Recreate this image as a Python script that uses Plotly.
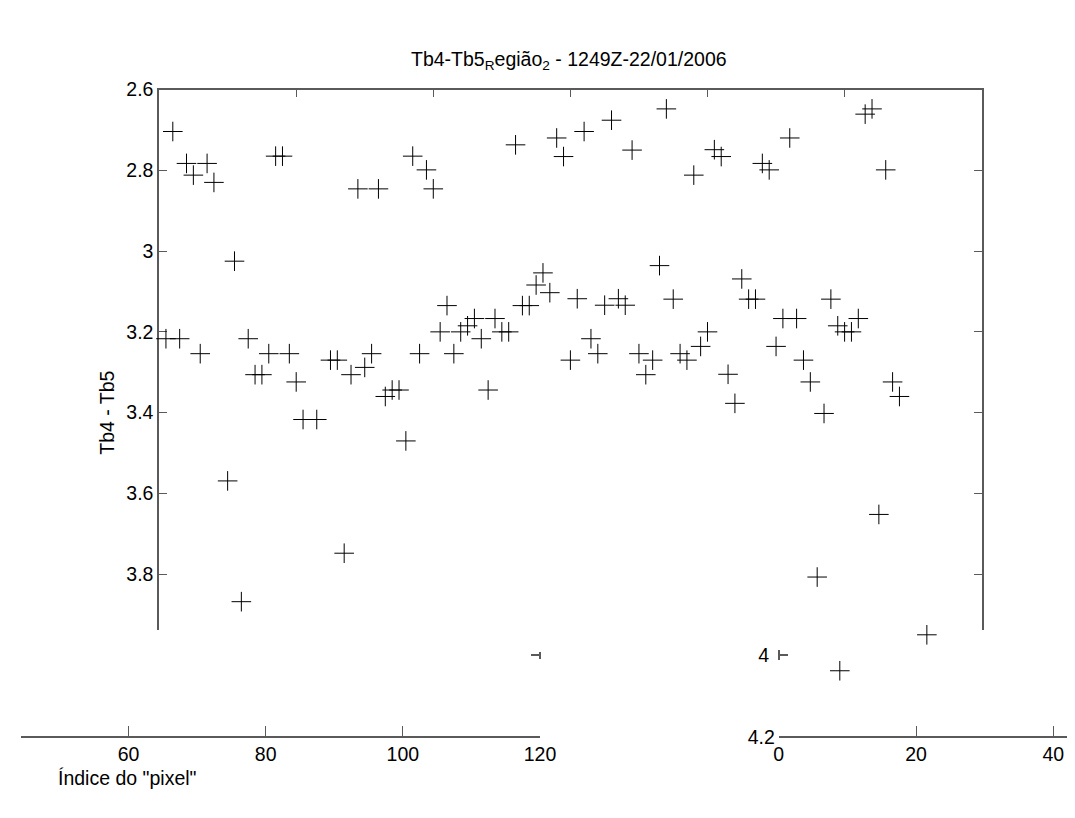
import plotly.graph_objects as go

# ---- data ----
pixel_index = [1, 2, 3, 4, 5, 6, 7, 8, 10, 11, 12, 13, 14, 15, 16, 17, 18, 19, 20, 21,
               23, 25, 26, 27, 28, 29, 30, 31, 32, 33, 34, 35, 36, 37, 38, 39, 40, 41, 42, 43,
               44, 45, 46, 47, 48, 49, 50, 51, 52, 53, 54, 55, 56, 57, 58, 59, 60, 61, 62, 63,
               64, 65, 66, 67, 68, 69, 70, 71, 72, 73, 74, 75, 76, 77, 78, 79, 80, 81, 82, 83,
               84, 85, 86, 87, 88, 89, 90, 91, 92, 93, 94, 95, 96, 97, 98, 99, 100, 101, 102, 103,
               104, 105, 106, 107, 108, 112, 99.3]
tb4_tb5 = [3.217, 2.704, 3.217, 2.783, 2.812, 3.254, 2.783, 2.830, 3.569, 3.025, 3.868, 3.217, 3.306, 3.306, 3.254, 2.765, 2.765, 3.254, 3.324, 3.417,
           3.417, 3.270, 3.270, 3.748, 3.306, 2.846, 3.288, 3.254, 2.846, 3.360, 3.344, 3.344, 3.470, 2.765, 3.254, 2.799, 2.846, 3.200, 3.135, 3.254,
           3.200, 3.185, 3.167, 3.217, 3.344, 3.167, 3.200, 3.200, 2.737, 3.135, 3.135, 3.084, 3.054, 3.103, 2.720, 2.766, 3.270, 3.118, 2.704, 3.217,
           3.254, 3.134, 2.676, 3.118, 3.134, 2.750, 3.254, 3.306, 3.270, 3.036, 2.648, 3.119, 3.254, 3.270, 2.812, 3.236, 3.200, 2.749, 2.766, 3.305,
           3.377, 3.069, 3.119, 3.119, 2.783, 2.799, 3.236, 3.167, 2.720, 3.167, 3.270, 3.324, 3.807, 3.402, 3.119, 3.185, 3.200, 3.200, 3.167, 2.661,
           2.648, 3.652, 2.799, 3.324, 3.360, 3.950, 4.039]

y_ticks = [2.6, 2.8, 3.0, 3.2, 3.4, 3.6, 3.8]
y_tick_labels = ["2.6", "2.8", "3", "3.2", "3.4", "3.6", "3.8"]
top_ticks = [20, 40, 60, 80, 100]
bottom_ticks_a = [60, 80, 100, 120]
bottom_ticks_b = [0, 20, 40]
lower_tick_4 = [4.0]
lower_label_4 = ["4"]
lower_tick_42 = [4.2]
lower_label_42 = ["4.2"]

title_text = "Tb4-Tb5<sub>R</sub>egião<sub>2</sub> - 1249Z-22/01/2006"
y_title = "Tb4 - Tb5"
x_title = "Índice do \"pixel\""

W, H = 1075, 818
FONT = "Arial, Liberation Sans, sans-serif"
FS = 19.5
AX = "#5a5a5a"
PXU = 412.5  # pixels per y unit
TOP, BOX_BOTTOM, FULL_BOTTOM = 72, 624, 740

def px(x):
    return x / W

def py(y):
    return 1 - y / H

fig = go.Figure()

# data drawn on a hidden y axis with the same scale as the visible one,
# but extending lower so the points below the box are kept
fig.add_trace(go.Scatter(
    x=pixel_index, y=tb4_tb5, mode="markers", xaxis="x", yaxis="y6",
    marker=dict(symbol="cross-thin", size=14, color="black",
                line=dict(color="black", width=1)),
    cliponaxis=False, showlegend=False, hoverinfo="skip"))

fig.add_trace(go.Scatter(x=[], y=[], xaxis="x", yaxis="y", showlegend=False))
for ya in ["y2", "y3", "y4", "y5"]:
    xa = "x2" if ya == "y2" else "x3"
    fig.add_trace(go.Scatter(x=[], y=[], xaxis=xa, yaxis=ya, showlegend=False))

bottom_y = 733

def small_y(center_px, val, half=6):
    d = half / PXU
    return dict(domain=[py(center_px + half), py(center_px - half)],
                range=[val + d, val - d])

fig.update_layout(
    width=W, height=H,
    margin=dict(l=0, r=0, t=0, b=0),
    paper_bgcolor="white", plot_bgcolor="rgba(0,0,0,0)",
    font=dict(family=FONT, size=FS, color="black"),
    showlegend=False,
    xaxis=dict(domain=[px(149), px(988)], range=[0, 120], side="top", anchor="y",
               showline=True, linecolor=AX, linewidth=1.5, ticks="inside",
               ticklen=8, tickcolor=AX, tickvals=top_ticks, showticklabels=False,
               showgrid=False, zeroline=False),
    yaxis=dict(domain=[py(BOX_BOTTOM), py(TOP)],
               range=[2.6 + (BOX_BOTTOM - TOP) / PXU, 2.6], anchor="x",
               showline=True, linecolor=AX, linewidth=1.5, mirror="ticks",
               ticks="inside", ticklen=8, tickcolor=AX,
               tickvals=y_ticks, ticktext=y_tick_labels,
               showgrid=False, zeroline=False),
    yaxis6=dict(domain=[py(FULL_BOTTOM), py(TOP)],
                range=[2.6 + (FULL_BOTTOM - TOP) / PXU, 2.6], anchor="x",
                visible=False, showgrid=False, zeroline=False),
    xaxis2=dict(domain=[px(8), px(537.5)], range=[44.3, 120], anchor="free",
                position=py(bottom_y), showline=True, linecolor=AX, linewidth=1.5,
                ticks="inside", ticklen=10, tickcolor=AX, tickvals=bottom_ticks_a,
                showgrid=False, zeroline=False),
    yaxis2=dict(domain=[0, 0.05], visible=False),
    xaxis3=dict(domain=[px(781), 1.0], range=[0, 42], anchor="free",
                position=py(bottom_y), showline=True, linecolor=AX, linewidth=1.5,
                ticks="inside", ticklen=10, tickcolor=AX, tickvals=bottom_ticks_b,
                showgrid=False, zeroline=False),
    yaxis3=dict(**small_y(649.5, 4.0, 5), anchor="free", position=px(781),
                showline=True, linecolor=AX, linewidth=1.5,
                ticks="inside", ticklen=9, tickwidth=1.5, tickcolor=AX,
                tickvals=lower_tick_4, ticktext=lower_label_4, ticklabelstandoff=5,
                showgrid=False, zeroline=False),
    yaxis4=dict(**small_y(bottom_y, 4.2, 6), anchor="free", position=px(781),
                showline=False, ticks="",
                tickvals=lower_tick_42, ticktext=lower_label_42, ticklabelstandoff=4,
                showgrid=False, zeroline=False),
    yaxis5=dict(**small_y(650, 4.0, 4), anchor="free", position=px(537),
                showline=True, linecolor=AX, linewidth=1.5,
                ticks="outside", ticklen=8, tickwidth=1.5, tickcolor=AX,
                tickvals=lower_tick_4, showticklabels=False,
                showgrid=False, zeroline=False),
    annotations=[
        dict(text=title_text, x=px(567), y=py(42), xref="paper", yref="paper",
             showarrow=False, xanchor="center", yanchor="middle",
             font=dict(size=FS)),
        dict(text=y_title, x=px(96), y=py(402), xref="paper", yref="paper",
             showarrow=False, textangle=-90, xanchor="center", yanchor="middle",
             font=dict(size=FS)),
        dict(text=x_title, x=px(117), y=py(775), xref="paper", yref="paper",
             showarrow=False, xanchor="center", yanchor="middle",
             font=dict(size=FS)),
    ],
)

fig.write_html("out.html")
